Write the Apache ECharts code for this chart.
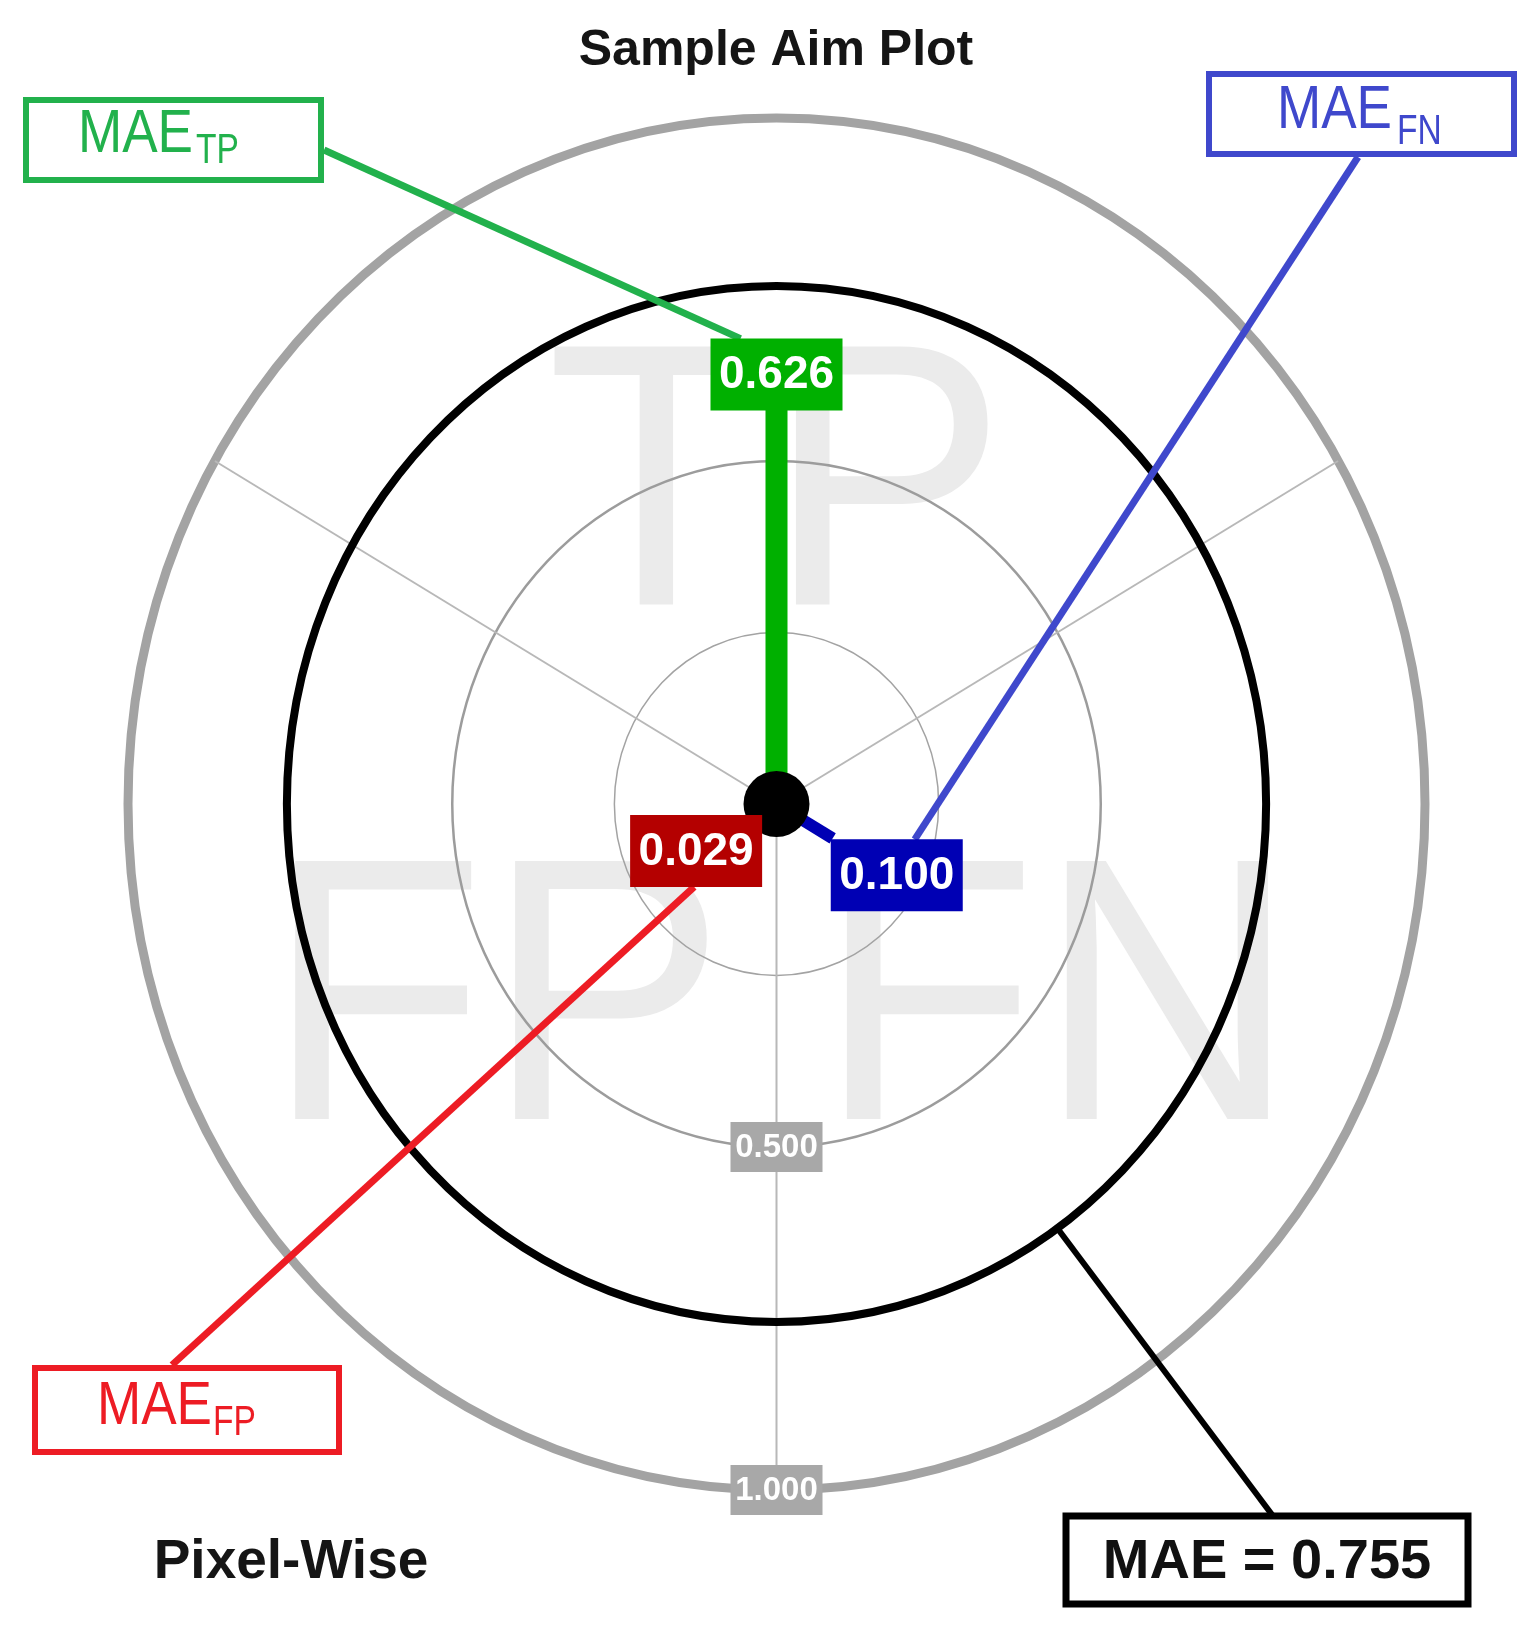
<!DOCTYPE html>
<html>
<head>
<meta charset="utf-8">
<title>Sample Aim Plot</title>
<script src="https://cdn.jsdelivr.net/npm/echarts/dist/echarts.min.js"></script>
<style>
  html, body { margin: 0; padding: 0; background: #fff; }
  #main { width: 1535px; height: 1637px; }
</style>
</head>
<body>
<div id="main"></div>
<script>
// sectors of the aim plot: name, direction (deg) and MAE part
const sectorNames = ['TP', 'FN', 'FP']
const sectorAngles = [90, -30, 210]
const sectorValues = [0.626, 0.100, 0.029]
// spokes between the sectors
const boundaryAngles = [30, 150, 270]
// reference rings and radius tick labels
const gridRings = [0.25, 0.5, 1.0]
const tickValues = [0.5, 1.0]
const tickLabels = ['0.500', '1.000']
// total MAE
const maeValue = 0.755

const FONT = "'Liberation Sans', Arial, sans-serif"

// styles
const barColors = ['#00b000', '#0000b4', '#b40000']
const barWidths = [22, 12, 12]
const labelPush = [0, 74, 74] // px the value box is moved out from the bar end
const ringColors = ['#a3a3a3', '#9c9c9c', '#a3a3a3']
const ringWidths = [1.5, 2.5, 9]
const calloutColors = ['#22b14c', '#3f48cc', '#ed1c24']
// callout boxes (pixel layout), tip = where the leader meets the value box
const calloutLayout = [
  { box: [26, 100, 295, 80], from: [324, 150], tip: [-36, -36], main: [78, 135], sub: [196, 151] },
  { box: [1209, 74, 305, 80], from: [1358, 157], tip: [18, -36], main: [1277, 111], sub: [1397, 132] },
  { box: [35, 1368, 304, 84], from: [172, 1365], tip: [-2, 36], main: [97, 1407], sub: [213, 1423] }
]
const maeLayout = { box: [1066, 1516, 402, 88], from: [1273, 1516], angle: -55, text: [1267, 1563] }

const RAD = Math.PI / 180
// point at radius r and angle a, mapped through the axes
function pt(api, r, a) {
  return api.coord([r * Math.cos(a * RAD), r * Math.sin(a * RAD)])
}
function labelCenter(api, i) {
  const p = pt(api, sectorValues[i], sectorAngles[i])
  const a = sectorAngles[i] * RAD
  return [p[0] + Math.cos(a) * labelPush[i], p[1] - Math.sin(a) * labelPush[i]]
}
function txt(x, y, text, size, color, weight, align, sx) {
  return {
    type: 'text', x: x, y: y, scaleX: sx || 1,
    style: {
      text: text, fill: color, fontSize: size, fontFamily: FONT, fontWeight: weight || 'normal',
      align: align || 'center', verticalAlign: 'middle',
      textAlign: align || 'center', textVerticalAlign: 'middle'
    }
  }
}

const chart = echarts.init(document.getElementById('main'))

const option = {
  backgroundColor: '#ffffff',
  animation: false,
  grid: { left: 128, top: 118, width: 1297, height: 1372 },
  xAxis: { type: 'value', min: -1, max: 1, show: false },
  yAxis: { type: 'value', min: -1, max: 1, show: false },
  graphic: [
    txt(776, 51, 'Sample Aim Plot', 50, '#151515', 'bold'),
    txt(291, 1563, 'Pixel-Wise', 55, '#151515', 'bold')
  ],
  series: [
    {
      // big sector letters in the background
      type: 'custom', coordinateSystem: 'cartesian2d', silent: true, z: 1,
      data: sectorNames.map(() => [0, 0]),
      renderItem(params, api) {
        const i = params.dataIndex
        const p = pt(api, 0.5, sectorAngles[i])
        return txt(p[0], p[1] + 40, sectorNames[i], 375, '#ebebeb', 'normal', 'center', 0.96)
      }
    },
    {
      // reference rings
      type: 'custom', coordinateSystem: 'cartesian2d', silent: true, z: 2,
      data: gridRings.map(r => [r, 0]),
      renderItem(params, api) {
        const r = api.value(0)
        const c = api.coord([0, 0])
        const s = api.size([r, r])
        return {
          type: 'ellipse',
          shape: { cx: c[0], cy: c[1], rx: s[0], ry: s[1] },
          style: { fill: 'none', stroke: ringColors[params.dataIndex], lineWidth: ringWidths[params.dataIndex] }
        }
      }
    },
    {
      // spokes
      type: 'custom', coordinateSystem: 'cartesian2d', silent: true, z: 2,
      data: boundaryAngles.map(() => [0, 0]),
      renderItem(params, api) {
        const c = api.coord([0, 0])
        const p = pt(api, 1, boundaryAngles[params.dataIndex])
        return {
          type: 'line',
          shape: { x1: c[0], y1: c[1], x2: p[0], y2: p[1] },
          style: { stroke: '#b8b8b8', lineWidth: 2 }
        }
      }
    },
    {
      // total MAE ring
      type: 'custom', coordinateSystem: 'cartesian2d', silent: true, z: 3,
      data: [[maeValue, 0]],
      renderItem(params, api) {
        const r = api.value(0)
        const c = api.coord([0, 0])
        const s = api.size([r, r])
        return {
          type: 'ellipse',
          shape: { cx: c[0], cy: c[1], rx: s[0], ry: s[1] },
          style: { fill: 'none', stroke: '#000', lineWidth: 8 }
        }
      }
    },
    {
      // callout boxes and leaders for each sector
      type: 'custom', coordinateSystem: 'cartesian2d', silent: true, z: 4,
      data: sectorValues.map(v => [v, 0]),
      renderItem(params, api) {
        const i = params.dataIndex
        const L = calloutLayout[i]
        const col = calloutColors[i]
        const lc = labelCenter(api, i)
        return {
          type: 'group',
          children: [
            {
              type: 'line',
              shape: { x1: L.from[0], y1: L.from[1], x2: lc[0] + L.tip[0], y2: lc[1] + L.tip[1] },
              style: { stroke: col, lineWidth: 7 }
            },
            {
              type: 'rect',
              shape: { x: L.box[0], y: L.box[1], width: L.box[2], height: L.box[3] },
              style: { fill: '#fff', stroke: col, lineWidth: 6 }
            },
            txt(L.main[0], L.main[1], 'MAE', 61, col, 'normal', 'left', 0.87),
            txt(L.sub[0], L.sub[1], sectorNames[i], 43, col, 'normal', 'left', 0.78)
          ]
        }
      }
    },
    {
      // total MAE callout
      type: 'custom', coordinateSystem: 'cartesian2d', silent: true, z: 4,
      data: [[maeValue, 0]],
      renderItem(params, api) {
        const p = pt(api, api.value(0), maeLayout.angle)
        const B = maeLayout.box
        return {
          type: 'group',
          children: [
            {
              type: 'line',
              shape: { x1: maeLayout.from[0], y1: maeLayout.from[1], x2: p[0], y2: p[1] },
              style: { stroke: '#000', lineWidth: 6 }
            },
            {
              type: 'rect',
              shape: { x: B[0], y: B[1], width: B[2], height: B[3] },
              style: { fill: '#fff', stroke: '#000', lineWidth: 7 }
            },
            txt(maeLayout.text[0], maeLayout.text[1], 'MAE = ' + maeValue.toFixed(3), 56, '#111', 'bold')
          ]
        }
      }
    },
    {
      // MAE part bars
      type: 'custom', coordinateSystem: 'cartesian2d', silent: true, z: 5,
      data: sectorValues.map(v => [v, 0]),
      renderItem(params, api) {
        const i = params.dataIndex
        const c = api.coord([0, 0])
        const p = pt(api, api.value(0), sectorAngles[i])
        return {
          type: 'line',
          shape: { x1: c[0], y1: c[1], x2: p[0], y2: p[1] },
          style: { stroke: barColors[i], lineWidth: barWidths[i] }
        }
      }
    },
    {
      // centre dot
      type: 'custom', coordinateSystem: 'cartesian2d', silent: true, z: 6,
      data: [[0, 0]],
      renderItem(params, api) {
        const c = api.coord([api.value(0), api.value(1)])
        return { type: 'circle', shape: { cx: c[0], cy: c[1], r: 33 }, style: { fill: '#000' } }
      }
    },
    {
      // value boxes
      type: 'custom', coordinateSystem: 'cartesian2d', silent: true, z: 7,
      data: sectorValues.map(v => [v, 0]),
      renderItem(params, api) {
        const i = params.dataIndex
        const lc = labelCenter(api, i)
        return {
          type: 'group',
          children: [
            {
              type: 'rect',
              shape: { x: lc[0] - 66, y: lc[1] - 36, width: 132, height: 72 },
              style: { fill: barColors[i] }
            },
            txt(lc[0], lc[1] + 1, api.value(0).toFixed(3), 46, '#fff', 'bold')
          ]
        }
      }
    },
    {
      // radius tick labels on the bottom spoke
      type: 'custom', coordinateSystem: 'cartesian2d', silent: true, z: 7,
      data: tickValues.map(v => [v, 0]),
      renderItem(params, api) {
        const p = pt(api, api.value(0), 270)
        return {
          type: 'group',
          children: [
            {
              type: 'rect',
              shape: { x: p[0] - 46, y: p[1] - 25, width: 92, height: 50 },
              style: { fill: '#a8a8a8' }
            },
            txt(p[0], p[1] + 1, tickLabels[params.dataIndex], 33, '#fff', 'bold')
          ]
        }
      }
    }
  ]
}

chart.setOption(option)
</script>
</body>
</html>
